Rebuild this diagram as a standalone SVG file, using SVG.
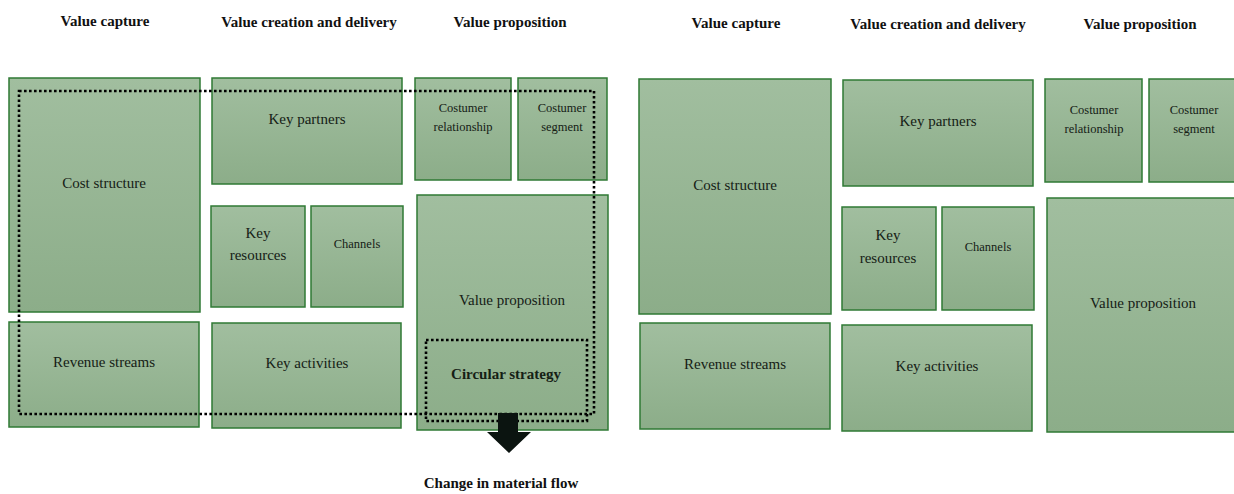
<svg xmlns="http://www.w3.org/2000/svg" width="1234" height="494" viewBox="0 0 1234 494">
<defs>
<linearGradient id="g" x1="0" y1="0" x2="0" y2="1">
<stop offset="0" stop-color="#a1be9f"/>
<stop offset="1" stop-color="#8cad89"/>
</linearGradient>
</defs>
<style>
.box{fill:url(#g);stroke:#2f7a35;stroke-width:1.5}
.t{font-family:"Liberation Serif","Times New Roman",serif;fill:#152015;text-anchor:middle}
.l{font-size:15px}
.s{font-size:12.5px}
.h{font-family:"Liberation Serif","Times New Roman",serif;font-weight:bold;font-size:15px;fill:#111;text-anchor:middle}
.dot{fill:none;stroke:#000;stroke-width:2.6;stroke-dasharray:2.6 2.4}
</style>
<rect width="1234" height="494" fill="#fff"/>
<g id="headers">
<text class="h" x="105" y="26">Value capture</text>
<text class="h" x="309" y="27">Value creation and delivery</text>
<text class="h" x="510" y="27">Value proposition</text>
<text class="h" x="736" y="28">Value capture</text>
<text class="h" x="938" y="29">Value creation and delivery</text>
<text class="h" x="1140" y="29">Value proposition</text>
</g>
<g id="left-cost-structure"><rect class="box" x="9" y="78" width="191" height="234"/><text class="t l" x="104" y="188">Cost structure</text></g>
<g id="left-key-partners"><rect class="box" x="212" y="78" width="190" height="106"/><text class="t l" x="307" y="124">Key partners</text></g>
<g id="left-key-resources"><rect class="box" x="211" y="206" width="94" height="101"/><text class="t l" x="258" y="238">Key</text><text class="t l" x="258" y="260">resources</text></g>
<g id="left-channels"><rect class="box" x="311" y="206" width="92" height="101"/><text class="t s" x="357" y="248">Channels</text></g>
<g id="left-costumer-relationship"><rect class="box" x="415" y="78" width="96" height="102"/><text class="t s" x="463" y="112">Costumer</text><text class="t s" x="463" y="131">relationship</text></g>
<g id="left-costumer-segment"><rect class="box" x="518" y="78" width="89" height="102"/><text class="t s" x="562" y="112">Costumer</text><text class="t s" x="562" y="131">segment</text></g>
<g id="left-value-proposition"><rect class="box" x="417" y="195" width="191" height="235"/><text class="t l" x="512" y="305">Value proposition</text></g>
<g id="left-revenue-streams"><rect class="box" x="9" y="322" width="190" height="105"/><text class="t l" x="104" y="367">Revenue streams</text></g>
<g id="left-key-activities"><rect class="box" x="212" y="323" width="189" height="105"/><text class="t l" x="307" y="368">Key activities</text></g>
<g id="circular-strategy"><rect class="dot" x="426" y="340" width="161" height="81"/><text class="t l" x="506" y="379" font-weight="bold" fill="#111">Circular strategy</text></g>
<g id="right-cost-structure"><rect class="box" x="639" y="79" width="192" height="235"/><text class="t l" x="735" y="190">Cost structure</text></g>
<g id="right-key-partners"><rect class="box" x="843" y="80" width="190" height="106"/><text class="t l" x="938" y="126">Key partners</text></g>
<g id="right-key-resources"><rect class="box" x="842" y="207" width="94" height="103"/><text class="t l" x="888" y="240">Key</text><text class="t l" x="888" y="263">resources</text></g>
<g id="right-channels"><rect class="box" x="942" y="207" width="92" height="103"/><text class="t s" x="988" y="251">Channels</text></g>
<g id="right-costumer-relationship"><rect class="box" x="1045" y="79" width="97" height="103"/><text class="t s" x="1094" y="114">Costumer</text><text class="t s" x="1094" y="133">relationship</text></g>
<g id="right-costumer-segment"><rect class="box" x="1149" y="79" width="92" height="103"/><text class="t s" x="1194" y="114">Costumer</text><text class="t s" x="1194" y="133">segment</text></g>
<g id="right-value-proposition"><rect class="box" x="1047" y="198" width="194" height="234"/><text class="t l" x="1143" y="308">Value proposition</text></g>
<g id="right-revenue-streams"><rect class="box" x="640" y="323" width="190" height="106"/><text class="t l" x="735" y="369">Revenue streams</text></g>
<g id="right-key-activities"><rect class="box" x="842" y="325" width="190" height="106"/><text class="t l" x="937" y="371">Key activities</text></g>
<g id="connectors">
<rect class="dot" x="19" y="91" width="575" height="323"/>
<path d="M498,413 H518 V432 H531 L509,453 L487,432 H498 Z" fill="#0b1410"/>
</g>
<g id="caption"><text class="h" x="501" y="488">Change in material flow</text></g>
</svg>
